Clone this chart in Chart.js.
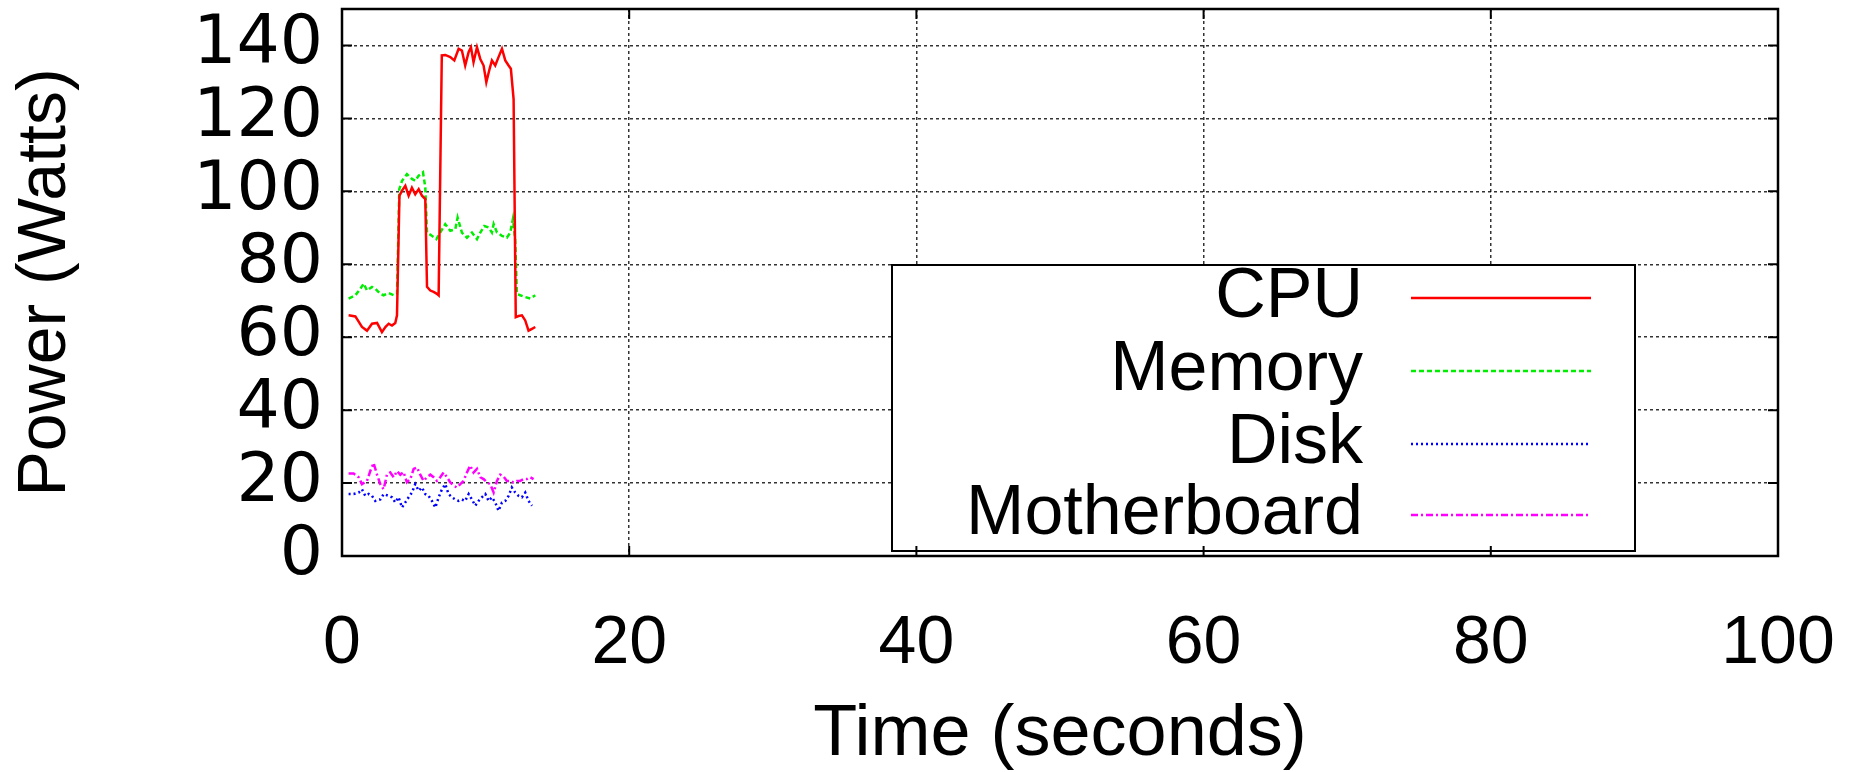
<!DOCTYPE html>
<html>
<head>
<meta charset="utf-8">
<script src="https://cdn.jsdelivr.net/npm/chart.js@4/dist/chart.umd.min.js"></script>
<style>
  html, body { margin: 0; padding: 0; background: #fff; }
  #wrap { width: 1862px; height: 772px; position: relative; }
</style>
</head>
<body>
<div id="wrap"><canvas id="c"></canvas></div>
<script>
// ---- Data ----
const seriesLabels = ['CPU', 'Memory', 'Disk', 'Motherboard'];
const xTickValues = [0, 20, 40, 60, 80, 100];
const yTickValues = [0, 20, 40, 60, 80, 100, 120, 140];

const cpuTime = [0.46, 0.93, 1.39, 1.74, 2.09, 2.44, 2.78, 3.02, 3.25, 3.48, 3.71, 3.83, 4.0, 4.18, 4.41, 4.64, 4.87, 5.10, 5.34, 5.57, 5.80, 5.92, 6.15, 6.38, 6.61, 6.73, 6.95, 7.19, 7.54, 7.82, 8.12, 8.35, 8.58, 8.82, 8.98, 9.16, 9.40, 9.63, 9.86, 10.05, 10.28, 10.44, 10.67, 10.90, 11.14, 11.37, 11.60, 11.76, 11.95, 12.10, 12.30, 12.53, 12.76, 12.99, 13.23, 13.46];
const cpuPower = [66, 65.7, 62.8, 61.8, 63.7, 63.9, 61.4, 62.8, 63.7, 63.2, 63.9, 66, 98.8, 100.2, 101.5, 98.8, 101, 99.2, 100.6, 98.8, 97.9, 73.8, 72.8, 72.4, 71.9, 71.5, 137.3, 137.4, 136.8, 135.9, 139.1, 138.6, 134.5, 138.2, 139.5, 135.4, 139.5, 136.3, 134.5, 129.9, 133.6, 135.9, 134.5, 136.8, 139.1, 135.9, 134.5, 133.6, 125.3, 65.5, 65.8, 66, 64.6, 61.8, 62.3, 62.8];

const memTime = [0.46, 0.93, 1.28, 1.51, 1.74, 2.09, 2.32, 2.67, 2.90, 3.25, 3.60, 3.83, 3.99, 4.18, 4.52, 4.87, 5.10, 5.34, 5.64, 5.80, 5.92, 6.26, 6.57, 6.84, 7.19, 7.54, 7.89, 8.05, 8.35, 8.70, 9.05, 9.40, 9.63, 9.91, 10.21, 10.44, 10.56, 10.79, 11.14, 11.48, 11.72, 11.90, 12.06, 12.18, 12.41, 12.76, 13.11, 13.46];
const memPower = [70.6, 71.5, 73.3, 74.7, 72.8, 73.8, 73.3, 71.9, 71.5, 72.1, 71.5, 71.9, 100.6, 102.9, 104.7, 103.4, 102.9, 104.3, 105.2, 101.1, 88.7, 87.8, 86.9, 88.7, 91, 89.2, 89.6, 92.8, 88.7, 87.3, 88.7, 86.9, 88.7, 90.5, 90.1, 88.7, 91, 88.7, 87.8, 87.3, 88.7, 92.4, 86.9, 71.9, 71.5, 71, 70.6, 71.5];

const diskTime = [0.46, 0.81, 1.16, 1.39, 1.62, 1.86, 2.09, 2.32, 2.67, 2.90, 3.25, 3.48, 3.71, 3.94, 4.18, 4.41, 4.64, 4.87, 5.10, 5.34, 5.57, 5.80, 6.03, 6.26, 6.50, 6.73, 6.96, 7.19, 7.42, 7.66, 7.89, 8.12, 8.35, 8.58, 8.82, 9.05, 9.28, 9.51, 9.74, 9.98, 10.21, 10.44, 10.67, 10.90, 11.14, 11.37, 11.60, 11.83, 12.06, 12.30, 12.53, 12.76, 12.99, 13.23];
const diskPower = [17, 17, 17.4, 18.3, 16.5, 17, 16.5, 15.1, 15.5, 17, 16.5, 16.1, 14.7, 16.1, 13.3, 14.7, 16.1, 17.4, 19.7, 17.9, 18.8, 17, 16.5, 15.1, 13.3, 16.1, 18.3, 19.7, 17, 16.1, 15.5, 15.1, 15.5, 15.1, 17, 15.5, 13.8, 15.1, 16.1, 17, 15.1, 16.1, 14.7, 12.4, 14.7, 15.1, 16.5, 18.8, 17.4, 16.5, 16.1, 17.4, 15.1, 13.8];

const mbTime = [0.46, 0.81, 1.16, 1.39, 1.74, 1.97, 2.20, 2.44, 2.67, 2.90, 3.13, 3.36, 3.60, 3.83, 4.06, 4.29, 4.52, 4.76, 4.99, 5.22, 5.45, 5.68, 5.92, 6.15, 6.38, 6.61, 6.84, 7.08, 7.31, 7.54, 7.77, 8.00, 8.24, 8.47, 8.70, 8.93, 9.16, 9.40, 9.63, 9.86, 10.09, 10.32, 10.56, 10.79, 11.02, 11.25, 11.48, 11.72, 11.95, 12.18, 12.41, 12.65, 12.88, 13.11, 13.34];
const mbPower = [22.6, 22.6, 21.6, 19.7, 20.6, 23.3, 25.5, 22.3, 19.7, 18.3, 22.3, 22.9, 21.6, 23.3, 22.3, 23.0, 20.2, 21.1, 23.9, 24.3, 22.3, 20.6, 21.6, 22.3, 21.6, 20.6, 21.6, 22.9, 21.6, 20.2, 19.3, 18.8, 19.7, 20.6, 22.9, 24.8, 22.9, 23.9, 21.6, 21.1, 20.2, 19.7, 17.4, 20.6, 22.3, 21.8, 20.6, 20.6, 20.2, 20.6, 20.6, 21.1, 21.1, 21.6, 21.1];

// ---- Build datasets ----
const toPoints = (xs, ys) => xs.map((x, i) => ({ x: x, y: ys[i] }));
const styles = [
  { color: '#ff0000', dash: [] },
  { color: '#00ee00', dash: [5, 3] },
  { color: '#0000ff', dash: [2, 3] },
  { color: '#ff00ff', dash: [7, 3, 2, 3] }
];
const seriesData = [
  toPoints(cpuTime, cpuPower),
  toPoints(memTime, memPower),
  toPoints(diskTime, diskPower),
  toPoints(mbTime, mbPower)
];
const datasets = seriesLabels.map((label, i) => ({
  label: label,
  data: seriesData[i],
  borderColor: styles[i].color,
  backgroundColor: styles[i].color,
  borderDash: styles[i].dash,
  borderWidth: 2.5,
  pointRadius: 0,
  showLine: true,
  fill: false,
  tension: 0
}));

const PLOT = { left: 342, right: 1778, top: 9, bottom: 556 };

// Custom legend + frame plugin (gnuplot-style boxed key, inward ticks)
const framePlugin = {
  id: 'frame',
  afterDatasetsDraw(chart) {
    const ctx = chart.ctx;
    const a = chart.chartArea;
    const xs = chart.scales.x, ys = chart.scales.y;
    ctx.save();
    // Legend box
    const L = { left: 892, top: 265, right: 1635, bottom: 551 };
    ctx.fillStyle = '#fff';
    ctx.fillRect(L.left, L.top, L.right - L.left, L.bottom - L.top);
    ctx.strokeStyle = '#000';
    ctx.lineWidth = 2;
    ctx.setLineDash([]);
    ctx.strokeRect(L.left, L.top, L.right - L.left, L.bottom - L.top);
    const rowY = [298, 371, 444, 515];
    ctx.font = '70px "Liberation Sans", Arial, sans-serif';
    ctx.textAlign = 'right';
    ctx.textBaseline = 'middle';
    chart.data.datasets.forEach((ds, i) => {
      ctx.fillStyle = '#000';
      ctx.fillText(ds.label, 1363, rowY[i]);
      ctx.beginPath();
      ctx.strokeStyle = ds.borderColor;
      ctx.lineWidth = 2.5;
      ctx.setLineDash(ds.borderDash || []);
      ctx.moveTo(1411, rowY[i]);
      ctx.lineTo(1591, rowY[i]);
      ctx.stroke();
    });
    ctx.setLineDash([]);
    // Inward tick marks on all four sides
    ctx.strokeStyle = '#000';
    ctx.lineWidth = 2;
    const tl = 10;
    xTickValues.forEach(v => {
      const px = xs.getPixelForValue(v);
      ctx.beginPath();
      ctx.moveTo(px, a.bottom); ctx.lineTo(px, a.bottom - tl);
      ctx.moveTo(px, a.top); ctx.lineTo(px, a.top + tl);
      ctx.stroke();
    });
    yTickValues.forEach(v => {
      const py = ys.getPixelForValue(v);
      ctx.beginPath();
      ctx.moveTo(a.left, py); ctx.lineTo(a.left + tl, py);
      ctx.moveTo(a.right, py); ctx.lineTo(a.right - tl, py);
      ctx.stroke();
    });
    // Plot frame
    ctx.lineWidth = 2.5;
    ctx.strokeRect(a.left, a.top, a.right - a.left, a.bottom - a.top);
    ctx.restore();
  }
};

const zeroPad = (s) => { s.paddingTop = 0; s.paddingBottom = 0; s.paddingLeft = 0; s.paddingRight = 0; };
const gridColorX = (c) => (c.tick && (c.tick.value === 0 || c.tick.value === 100)) ? 'rgba(0,0,0,0)' : 'rgba(0,0,0,0.8)';
const gridColorY = (c) => (c.tick && c.tick.value === 0) ? 'rgba(0,0,0,0)' : 'rgba(0,0,0,0.8)';

new Chart(document.getElementById('c'), {
  type: 'scatter',
  data: { datasets: datasets },
  plugins: [framePlugin],
  options: {
    responsive: true,
    maintainAspectRatio: false,
    animation: false,
    events: [],
    layout: { padding: { left: 0, top: PLOT.top, right: 1862 - PLOT.right, bottom: 0 } },
    plugins: { legend: { display: false }, tooltip: { enabled: false } },
    scales: {
      x: {
        type: 'linear',
        min: 0, max: 100,
        afterFit: (s) => { s.height = 772 - PLOT.bottom; zeroPad(s); },
        afterBuildTicks: (s) => { s.ticks = xTickValues.map(v => ({ value: v })); },
        border: { display: false, dash: [3, 3] },
        grid: {
          drawTicks: false,
          color: gridColorX,
          lineWidth: 1.5
        },
        ticks: {
          padding: 54,
          color: '#000',
          maxRotation: 0,
          font: { family: '"Liberation Sans", Arial, sans-serif', size: 68, lineHeight: 1 }
        },
        title: {
          display: true,
          text: 'Time (seconds)',
          color: '#000',
          padding: { top: 0, bottom: 1 },
          font: { family: '"Liberation Sans", Arial, sans-serif', size: 72, lineHeight: 1 }
        }
      },
      y: {
        type: 'linear',
        min: 0, max: 150,
        afterFit: (s) => { s.width = PLOT.left; zeroPad(s); },
        afterBuildTicks: (s) => { s.ticks = yTickValues.map(v => ({ value: v })); },
        border: { display: false, dash: [3, 3] },
        grid: {
          drawTicks: false,
          color: gridColorY,
          lineWidth: 1.5
        },
        ticks: {
          padding: 19,
          color: '#000',
          font: { family: '"DejaVu Sans", Arial, sans-serif', size: 68, lineHeight: 1 }
        },
        title: {
          display: true,
          text: 'Power (Watts)',
          color: '#000',
          padding: { top: 12, bottom: 0 },
          font: { family: '"Liberation Sans", Arial, sans-serif', size: 68, lineHeight: 1 }
        }
      }
    }
  }
});
</script>
</body>
</html>
